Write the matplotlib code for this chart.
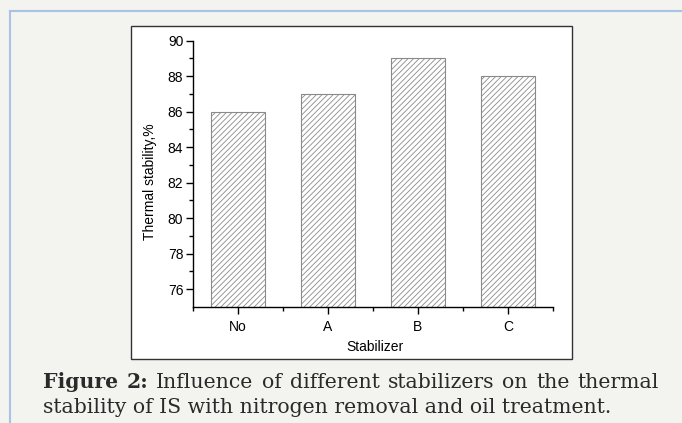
import matplotlib
matplotlib.use("Agg")
import matplotlib.pyplot as plt
from matplotlib.patches import Rectangle
from matplotlib.lines import Line2D

# data
stabilizers = ["No", "A", "B", "C"]
thermal_stability = [86, 87, 89, 88]
y_major = [76, 78, 80, 82, 84, 86, 88, 90]
caption_line1 = [("Figure", "bold"), ("2:", "bold"), ("Influence", "normal"), ("of", "normal"),
                 ("different", "normal"), ("stabilizers", "normal"), ("on", "normal"),
                 ("the", "normal"), ("thermal", "normal")]
caption_line2 = "stability of IS with nitrogen removal and oil treatment."

W, H = 682, 423
plt.rcParams["font.family"] = ["Liberation Sans", "DejaVu Sans"]
plt.rcParams["hatch.linewidth"] = 0.6
plt.rcParams["hatch.color"] = "#8a8a8a"

fig = plt.figure(figsize=(W / 100, H / 100), dpi=100, facecolor="#f3f3ef")


def px(x, y):
    # pixel coords (top-left origin) -> figure fraction
    return x / W, 1 - y / H


# page decorations: blue frame lines and white chart box (behind the axes)
blue = "#a7c3e6"
fig.add_artist(Line2D([10 / W, 1], [1 - 11 / H] * 2, color=blue, lw=1.5,
                      transform=fig.transFigure, zorder=-2))
fig.add_artist(Line2D([10 / W] * 2, [0, 1 - 11 / H], color=blue, lw=1.5,
                      transform=fig.transFigure, zorder=-2))
bx, by = px(131, 359)
fig.add_artist(Rectangle((bx, by), (572 - 131) / W, (359 - 26) / H, transform=fig.transFigure,
                         facecolor="white", edgecolor="#333333", lw=1.0, zorder=-1))

# axes
left, bottom = px(193, 307)
ax = fig.add_axes([left, bottom, (553 - 193) / W, (307 - 40.7) / H])
ax.set_facecolor("none")
x = list(range(len(stabilizers)))
ax.bar(x, thermal_stability, width=0.61, color="white", edgecolor="#8a8a8a", hatch="//////", lw=0.8)
ax.set_xlim(-0.5, len(stabilizers) - 0.5)
ax.set_ylim(75, 90)
ax.set_xticks(x)
ax.set_xticklabels(stabilizers)
ax.set_xticks([i - 0.5 for i in range(len(stabilizers) + 1)], minor=True)
ax.set_yticks(y_major)
ax.set_yticks([v + 1 for v in y_major[:-1]], minor=True)
for s in ["top", "right"]:
    ax.spines[s].set_visible(False)
for s in ["left", "bottom"]:
    ax.spines[s].set_linewidth(1.0)
ax.tick_params(which="major", direction="out", length=5, width=1, labelsize=10, pad=2)
ax.tick_params(which="minor", direction="out", length=3, width=1)
ax.tick_params(axis="x", which="major", pad=4)

ax.text(-0.119, 0.47, "Thermal stability,%", transform=ax.transAxes, rotation=90,
        ha="center", va="center", fontsize=10)
ax.text(0.505, -0.15, "Stabilizer", transform=ax.transAxes, ha="center", va="center", fontsize=10)

# caption, first line justified
cap_font = ["DejaVu Serif"]
cap_size = 14.7
renderer = fig.canvas.get_renderer()
texts = []
for word, weight in caption_line1:
    t = fig.text(0, 1 - 388 / H, word, family=cap_font, fontsize=cap_size, weight=weight,
                 color="#2a2a2a", va="baseline")
    texts.append(t)
widths = [t.get_window_extent(renderer).width for t in texts]
x0, x1 = 43, 659
gap = (x1 - x0 - sum(widths)) / (len(texts) - 1)
xp = x0
for t, w in zip(texts, widths):
    t.set_x(xp / W)
    xp += w + gap
fig.text(43 / W, 1 - 413 / H, caption_line2, family=cap_font, fontsize=cap_size,
         color="#2a2a2a", va="baseline")

fig.savefig("out.png", dpi=100, facecolor=fig.get_facecolor())
